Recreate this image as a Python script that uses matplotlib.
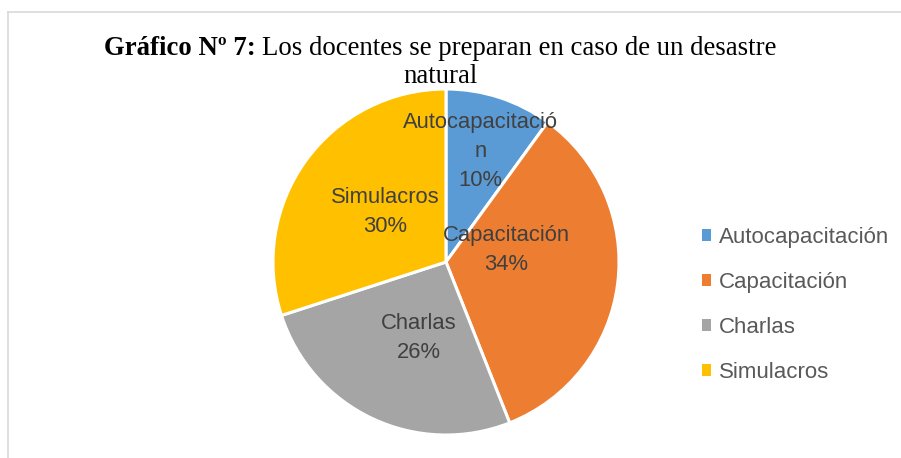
import matplotlib
matplotlib.use("Agg")
import matplotlib.pyplot as plt
import numpy as np

categories = ["Autocapacitación", "Capacitación", "Charlas", "Simulacros"]
values = [10, 34, 26, 30]
colors = ["#5B9BD5", "#ED7D31", "#A5A5A5", "#FFC000"]
label_texts = ["Autocapacitació\nn\n10%", "Capacitación\n34%", "Charlas\n26%", "Simulacros\n30%"]
title_bold = "Gráfico Nº 7:"
title_rest = "Los docentes se preparan en caso de un desastre"
title_line2 = "natural"
# label positions in units of radius (x, y) relative to centre
label_pos = [(0.20, 0.636), (0.347, 0.069), (-0.156, -0.442), (-0.353, 0.289)]

W, H = 901, 458
fig = plt.figure(figsize=(W / 100, H / 100), dpi=100)
fig.patch.set_facecolor("white")

# border lines
fig.add_artist(plt.Line2D([7.5 / W, 1], [1 - 11.5 / H, 1 - 11.5 / H], color="#D9D9D9", lw=1.2))
fig.add_artist(plt.Line2D([7.5 / W, 7.5 / W], [0, 1 - 11.5 / H], color="#D9D9D9", lw=1.2))

cx, cy, r = 446, 262, 173
ax = fig.add_axes([(cx - r) / W, 1 - (cy + r) / H, 2 * r / W, 2 * r / H])
wedges, _ = ax.pie(values, colors=colors, startangle=90, counterclock=False,
                   wedgeprops=dict(edgecolor="white", linewidth=2.2), radius=1.0)
ax.set_xlim(-1, 1)
ax.set_ylim(-1, 1)
ax.set_aspect("auto")
ax.axis("off")

for (x, y), t in zip(label_pos, label_texts):
    ax.text(x, y, t, ha="center", va="center", fontsize=15.8, color="#404040",
            family="Liberation Sans", linespacing=1.5)

# title
TFS = 19.3
fig.canvas.draw()
rend = fig.canvas.get_renderer()
t1 = fig.text(0, 1 - 55 / H, title_bold, fontsize=TFS, fontweight="bold",
              family="Liberation Serif", ha="left", va="baseline")
t2 = fig.text(0, 1 - 55 / H, title_rest, fontsize=TFS,
              family="Liberation Serif", ha="left", va="baseline")
w1 = t1.get_window_extent(rend).width
w2 = t2.get_window_extent(rend).width
gap = 6
x0 = 440 - (w1 + gap + w2) / 2
t1.set_x(x0 / W)
t2.set_x((x0 + w1 + gap) / W)
fig.text(440 / W, 1 - 83 / H, title_line2, fontsize=TFS, family="Liberation Serif",
         ha="center", va="baseline")

leg = fig.legend(wedges, categories, loc="upper left", bbox_to_anchor=(702 / W, 1 - 227 / H),
                 frameon=False, prop=dict(family="Liberation Sans", size=16),
                 labelcolor="#595959", handlelength=0.42, handleheight=0.42,
                 handletextpad=0.36, labelspacing=1.08, borderpad=0, borderaxespad=0)
for h in leg.legend_handles:
    h.set_edgecolor("none")

fig.savefig("out.png", dpi=100, facecolor="white")
